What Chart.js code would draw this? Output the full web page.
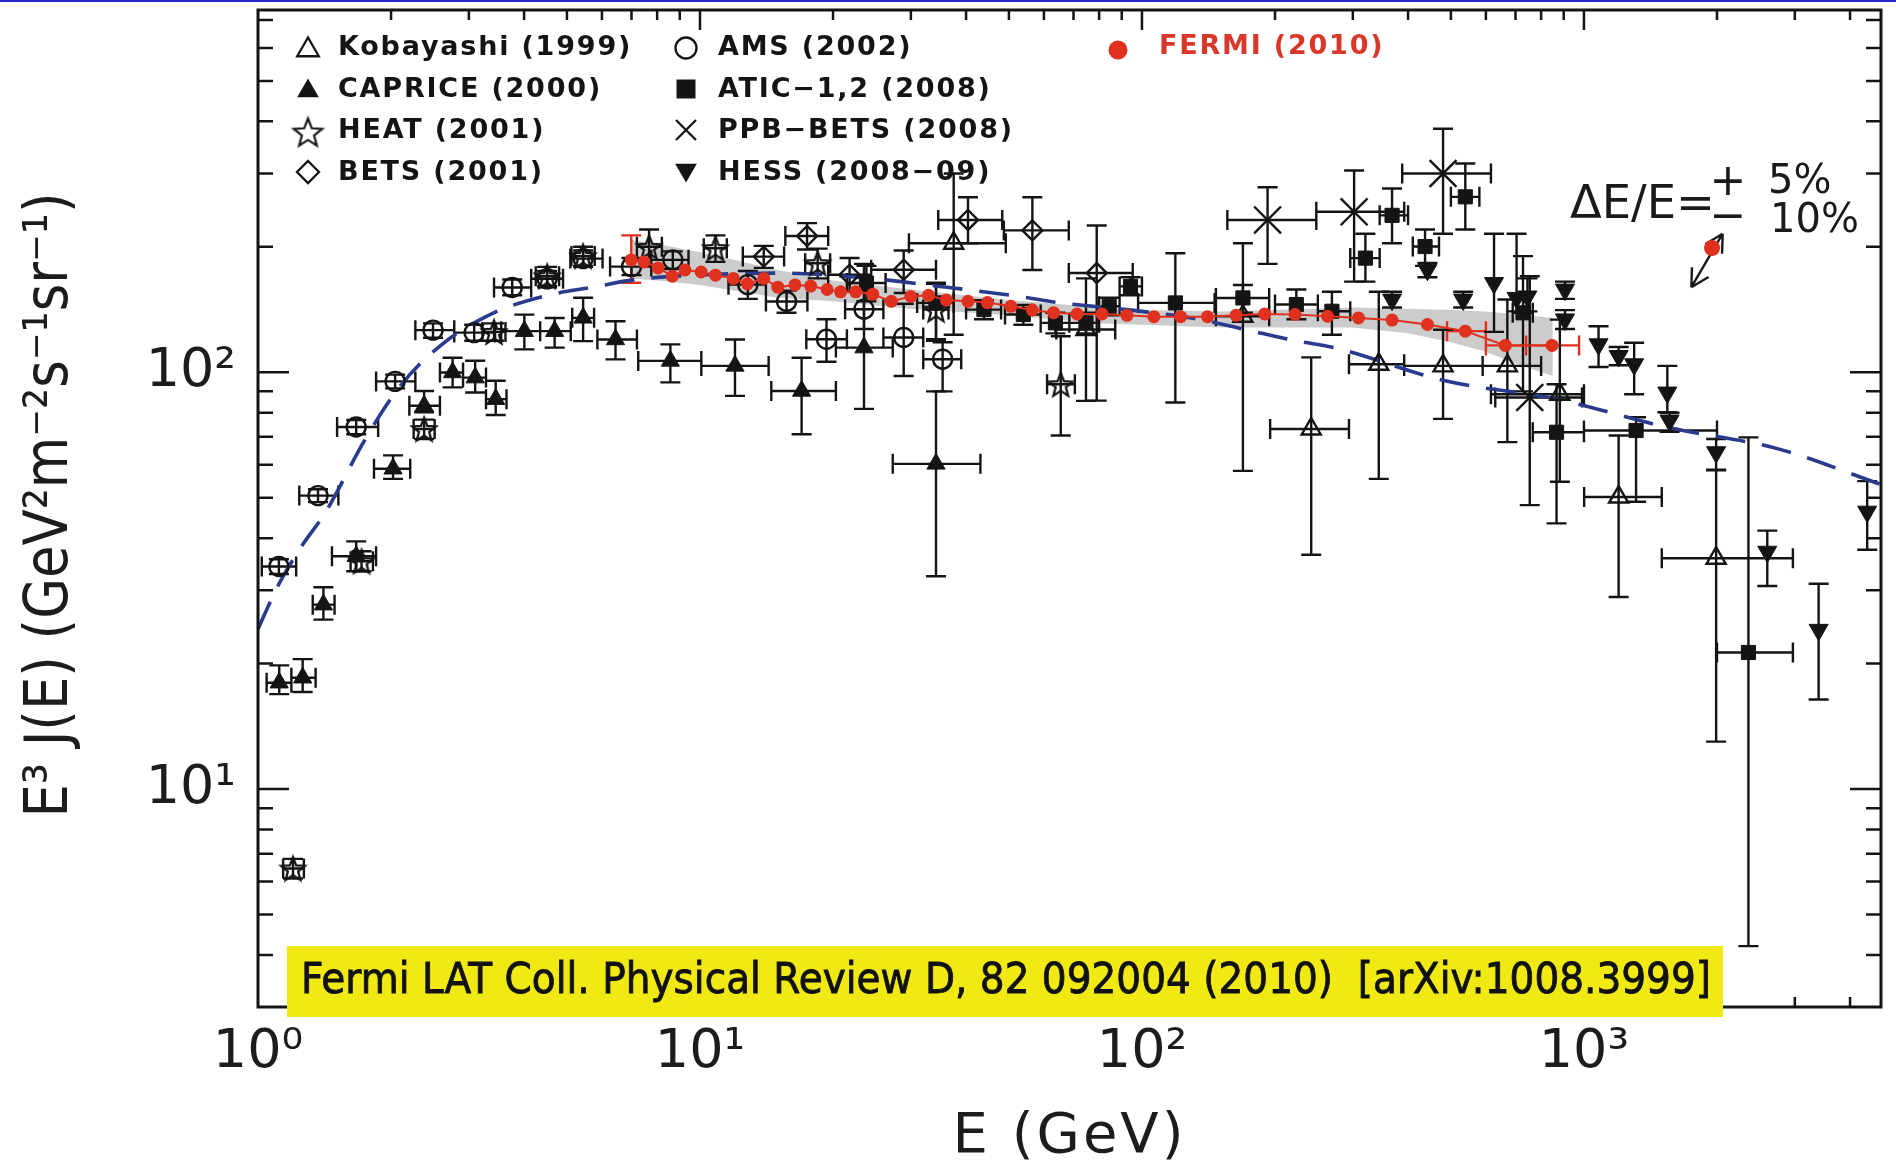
<!DOCTYPE html>
<html>
<head>
<meta charset="utf-8">
<title>Cosmic-ray electron spectrum</title>
<style>
html,body{margin:0;padding:0;background:#ffffff;overflow:hidden;}
canvas{display:block;}
</style>
<script src="https://cdn.jsdelivr.net/npm/chart.js@4.4.1/dist/chart.umd.min.js"></script>
</head>
<body>
<canvas id="chart" width="1896" height="1171"></canvas>
<script>
// ---------------- DATA ----------------
const xAxisRange = [1, 4700];
const yAxisRange = [3, 740];
const xTickValues = [1, 10, 100, 1000];
const xTickLabels = ['10\u2070', '10\u00b9', '10\u00b2', '10\u00b3'];
const yTickValues = [10, 100];
const yTickLabels = ['10\u00b9', '10\u00b2'];
const xTitle = 'E (GeV)';
const yTitle = 'E\u00b3 J(E) (GeV\u00b2m\u207b\u00b2s\u207b\u00b9sr\u207b\u00b9)';
const legendLabels = ['Kobayashi (1999)', 'CAPRICE (2000)', 'HEAT (2001)', 'BETS (2001)',
  'AMS (2002)', 'ATIC\u22121,2 (2008)', 'PPB\u2212BETS (2008)', 'HESS (2008\u221209)', 'FERMI (2010)'];
const citation = 'Fermi LAT Coll. Physical Review D, 82 092004 (2010)  [arXiv:1008.3999]';

// Kobayashi (1999)  open triangles
const kobE   = [37.5, 74.7, 169.2, 241.5, 343.4, 480, 671, 882, 1198, 1991];
const kobV   = [204, 126.7, 136.3, 73.1, 104.5, 103.6, 103.6, 88.6, 50.2, 35.8];
const kobELo = [29.7, 64, 147, 195, 294, 392, 590, 616, 1001, 1500];
const kobEHi = [49.2, 87, 194, 294, 392, 590, 800, 1000, 1500, 2970];
const kobVLo = [123, 85.4, 58, 36.5, 55.5, 77.3, 68, 54.6, 28.9, 13.0];
const kobVHi = [300, 168, 204, 108.6, 156, 126.5, 149.5, 133.8, 70.5, 58.4];

// CAPRICE (2000)  filled triangles
const capE   = [1.117, 1.262, 1.406, 1.668, 2.021, 2.376, 2.756, 3.10, 3.45, 4.005, 4.69, 5.44, 6.44, 8.57, 12.0, 16.98, 23.5, 34.2];
const capV   = [18.0, 18.5, 27.7, 36.2, 58.7, 83.1, 99.9, 97.1, 86.2, 125.5, 125.5, 135.1, 119.9, 106.5, 103.6, 90.2, 114.6, 60.3];
const capELo = [1.046, 1.19, 1.33, 1.47, 1.83, 2.20, 2.58, 2.91, 3.28, 3.55, 4.35, 5.14, 5.86, 7.25, 10.07, 14.5, 20.3, 27.3];
const capEHi = [1.19, 1.35, 1.49, 1.85, 2.21, 2.58, 2.91, 3.28, 3.65, 4.35, 5.10, 5.76, 7.20, 10.07, 14.3, 20.3, 27.3, 43.1];
const capVLo = [16.9, 17.1, 25.5, 33.3, 55.5, 80.2, 92.0, 89.4, 79.0, 113.5, 114.6, 118.8, 107.4, 94.6, 87.8, 71.0, 81.7, 32.4];
const capVHi = [19.8, 20.5, 30.5, 39.3, 63.2, 90.2, 108.4, 106.6, 95.4, 137.5, 135.0, 151.0, 132.6, 116.7, 119.9, 108.4, 182.0, 90.0];

// HEAT (2001)  open stars
const heatE   = [1.20, 1.715, 2.376, 3.42, 4.51, 5.44, 7.67, 10.84, 18.46, 34.2, 65.5];
const heatV   = [6.45, 35.2, 73.1, 125.0, 170.0, 190.0, 200.0, 198.5, 182.7, 141.4, 93.6];
const heatELo = [1.14, 1.62, 2.25, 3.22, 4.25, 5.12, 7.2, 10.2, 17.3, 32.0, 61.0];
const heatEHi = [1.27, 1.82, 2.51, 3.63, 4.80, 5.78, 8.2, 11.5, 19.7, 36.5, 70.5];
const heatVLo = [6.1, 33.3, 69.2, 119, 161, 180, 180, 184, 168, 120, 70.5];
const heatVHi = [6.8, 37.2, 77.0, 131, 179, 200, 220, 213, 198, 163, 122];

// BETS (2001)  open diamonds
const betsE   = [13.94, 17.47, 21.8, 28.9, 40.4, 56.5, 79.0];
const betsV   = [189.5, 212.3, 171.4, 176.2, 232, 219, 173];
const betsELo = [12.5, 15.6, 19.5, 24.4, 34.6, 48.7, 68.3];
const betsEHi = [15.5, 19.5, 24.4, 34.2, 48.3, 68.3, 95.3];
const betsVLo = [178, 197, 156, 155, 204, 176, 85.5];
const betsVHi = [201, 228, 188, 196, 263, 263, 225];

// AMS (2002)  open circles
const amsE   = [1.115, 1.367, 1.668, 2.043, 2.489, 3.084, 3.76, 4.51, 5.44, 7.0, 8.68, 12.83, 15.7, 19.33, 23.5, 28.9, 35.4];
const amsV   = [34.2, 50.6, 73.9, 95.1, 126.2, 124.5, 159.8, 167.6, 187.4, 179.3, 186.1, 162.3, 147.9, 120.0, 141.7, 121.2, 107.5];
const amsELo = [1.02, 1.24, 1.51, 1.85, 2.27, 2.78, 3.42, 4.15, 5.09, 6.26, 7.76, 11.6, 14.1, 17.4, 21.3, 26.0, 32.0];
const amsEHi = [1.22, 1.52, 1.87, 2.27, 2.78, 3.44, 4.15, 4.90, 6.02, 7.76, 9.42, 14.1, 17.5, 21.5, 26.0, 32.0, 39.0];
const amsVLo = [32.8, 48.8, 71.0, 91.5, 121, 119, 153, 160, 179, 171, 177, 150, 139, 106, 127, 98, 90];
const amsVHi = [35.6, 52.4, 76.8, 98.7, 131, 130, 167, 175, 196, 188, 195, 175, 157, 134, 158, 146, 118];

// ATIC-1,2 (2008)  filled squares
const aticE   = [23.8, 34.2, 43.9, 53.9, 63.7, 74.7, 84.3, 94.2, 119, 169.2, 223.5, 269, 320.3, 368, 437, 539, 728, 867, 1312, 2356];
const aticV   = [163.7, 146.7, 141.4, 137.6, 131.4, 131.4, 144, 160.7, 146.7, 150.8, 145.4, 140.1, 187.9, 238, 200.3, 263.6, 138.9, 71.8, 72.5, 21.27];
const aticELo = [21.5, 31, 40, 49, 59, 68.5, 80, 89, 98, 147, 200, 250, 296, 345, 410, 500, 690, 766, 1000, 2000];
const aticEHi = [26.3, 37.5, 48, 59, 68.5, 80, 89, 100, 146, 194, 250, 296, 345, 400, 470, 580, 766, 1000, 2000, 2970];
const aticVLo = [148, 119, 134, 130, 124, 124, 137, 153, 84.6, 139, 134, 123, 165, 204, 180, 220, 90, 43.4, 48.9, 4.2];
const aticVHi = [180, 164, 149, 145, 139, 139, 151, 169, 193, 162, 158, 156, 215, 276, 220, 317, 190, 93.6, 78, 69.8];

// PPB-BETS (2008)  crosses
const ppbE   = [192.4, 302, 480, 754];
const ppbV   = [232, 242.7, 299.9, 87.0];
const ppbELo = [156, 248, 388, 630];
const ppbEHi = [248, 392, 616, 990];
const ppbVLo = [182, 165, 215, 48];
const ppbVHi = [278, 305, 384, 170];

// HESS (2008-09)  filled down triangles
const hessE   = [368, 442.5, 533, 626, 704, 745, 906, 906, 1079, 1198, 1299, 1544, 1562, 1991, 2599, 3396, 4374];
const hessV   = [149.4, 176.2, 149.4, 163.7, 150.8, 152, 157.9, 133.9, 116.7, 109.4, 104.5, 89.4, 76.6, 64.3, 37.1, 24.1, 46.3];
const hessVLo = [143, 169, 143, 125, 140, 140, 150, 127, 103, 104, 88.6, 80.2, 72, 58.2, 30.7, 16.4, 37.5];
const hessVHi = [156, 183, 156, 215, 215, 168, 165, 141, 129, 115, 117.7, 103.6, 80, 69.2, 41.7, 31.1, 54.8];

// FERMI (2010)  red dots
const fermiE = [6.99, 7.47, 8.04, 8.66, 9.25, 10.06, 10.84, 11.9, 12.8, 13.94, 15.0, 16.4, 17.8, 19.4, 20.8, 22.5, 24.6, 27.1, 30.0, 32.9,
  36.1, 40.4, 44.7, 50.5, 56.5, 63.1, 71.3, 81.2, 92.5, 106.4, 122.3, 140.7, 163.3, 189.5, 222, 263, 309, 368, 442.5, 539, 664, 847];
const fermiV = [186, 184, 178, 170, 176, 174, 171, 168, 163, 168, 160, 162, 161, 158, 156, 156, 154, 148, 152, 153,
  149, 148, 147, 144, 141, 139, 138, 138, 137, 136, 136, 136, 137, 138, 137.6, 136.3, 135, 133.4, 130.2, 125.5, 116, 116];
const fermiBarE  = [6.99];
const fermiBarV  = [186];
const fermiBarLo = [164];
const fermiBarHi = [213];
const fermiBinE  = [539, 664, 847];
const fermiBinV  = [125.5, 116, 116];
const fermiBinLo = [490, 600, 740];
const fermiBinHi = [600, 740, 975];

// FERMI systematic band
const bandE  = [7, 8, 10, 12, 15, 20, 30, 50, 80, 100, 150, 200, 300, 400, 500, 600, 700, 850];
const bandHi = [208, 203, 194, 186, 176, 166, 158, 149, 143, 141, 140, 141, 143, 142, 141, 140, 138, 135];
const bandLo = [168, 166, 162, 157, 151, 148, 142, 137, 131, 130, 128, 128, 128, 124, 118, 112, 105, 98];

// model (blue dashed)
const modelE = [1.0, 1.107, 1.25, 1.424, 1.75, 2.1, 2.58, 3.35, 4.43, 5.85, 7.06, 9.33, 15.3, 23.9, 34.9, 52.3, 65.5, 100, 135, 171, 225, 272, 485, 867, 1544, 2750, 4700];
const modelV = [24.2, 30.6, 38.0, 46.3, 69.2, 92.8, 115.6, 137.6, 152.2, 160.7, 166.6, 170.6, 173.0, 168.3, 160.7, 152.2, 146.7, 140.0, 133.9, 126.7, 118.8, 114.6, 95.4, 86.2, 73.8, 65.5, 53.8];

// energy-scale annotation (data coordinates)
const annotDotE = 1949, annotDotV = 198.7;
const annotArrowE = [1750, 2060];
const annotArrowV = [160, 215];

// ---------------- HELPERS ----------------
const INK = '#141414';
const RED = '#e0301e';
const BLUE = '#2a3b8e';
function pts(E, V) { return E.map((e, i) => ({ x: e, y: V[i] })); }
function labelFor(v, vals, labels) {
  const i = vals.findIndex(t => Math.abs(t - v) / t < 1e-6);
  return i >= 0 ? labels[i] : '';
}
function makeStar(R, lw) {
  const s = Math.ceil(2 * R + 2 * lw + 4);
  const c = document.createElement('canvas'); c.width = s; c.height = s;
  const g = c.getContext('2d'); g.strokeStyle = INK; g.lineWidth = lw; g.lineJoin = 'miter';
  const r = R * 0.43, cx = s / 2, cy = s / 2 + R * 0.1;
  g.beginPath();
  for (let k = 0; k < 10; k++) {
    const a = -Math.PI / 2 + k * Math.PI / 5, rr = (k % 2) ? r : R;
    const px = cx + rr * Math.cos(a), py = cy + rr * Math.sin(a);
    if (k) g.lineTo(px, py); else g.moveTo(px, py);
  }
  g.closePath(); g.stroke();
  return c;
}
const starPoint = makeStar(12.5, 2.3);
const starLegend = makeStar(15, 2.2);

function errSet(E, V, ELo, EHi, VLo, VHi, color) {
  return { x: E, y: V, xlo: ELo, xhi: EHi, ylo: VLo, yhi: VHi, color: color };
}

const datasets = [
  { label: legendLabels[8], data: pts(fermiE, fermiV), showLine: true, borderColor: RED, borderWidth: 2,
    pointRadius: 6.5, pointBackgroundColor: RED, pointBorderWidth: 0, order: 0,
    errs: [errSet(fermiBarE, fermiBarV, null, null, fermiBarLo, fermiBarHi, RED),
           errSet(fermiBinE, fermiBinV, fermiBinLo, fermiBinHi, null, null, RED)] },
  { label: legendLabels[7], data: pts(hessE, hessV), pointStyle: 'triangle', rotation: 180, pointRadius: 11,
    pointBackgroundColor: INK, pointBorderColor: INK, pointBorderWidth: 1, order: 1,
    errs: [errSet(hessE, hessV, null, null, hessVLo, hessVHi, INK)] },
  { label: legendLabels[5], data: pts(aticE, aticV), pointStyle: 'rect', pointRadius: 10,
    pointBackgroundColor: INK, pointBorderColor: INK, pointBorderWidth: 1, order: 1,
    errs: [errSet(aticE, aticV, aticELo, aticEHi, aticVLo, aticVHi, INK)] },
  { label: legendLabels[6], data: pts(ppbE, ppbV), pointStyle: 'crossRot', pointRadius: 19,
    pointBorderColor: INK, pointBorderWidth: 2.4, order: 1,
    errs: [errSet(ppbE, ppbV, ppbELo, ppbEHi, ppbVLo, ppbVHi, INK)] },
  { label: legendLabels[0], data: pts(kobE, kobV), pointStyle: 'triangle', pointRadius: 11,
    pointBackgroundColor: 'rgba(0,0,0,0)', pointBorderColor: INK, pointBorderWidth: 2.4, order: 1,
    errs: [errSet(kobE, kobV, kobELo, kobEHi, kobVLo, kobVHi, INK)] },
  { label: legendLabels[1], data: pts(capE, capV), pointStyle: 'triangle', pointRadius: 10.5,
    pointBackgroundColor: INK, pointBorderColor: INK, pointBorderWidth: 1, order: 1,
    errs: [errSet(capE, capV, capELo, capEHi, capVLo, capVHi, INK)] },
  { label: legendLabels[4], data: pts(amsE, amsV), pointStyle: 'circle', pointRadius: 9.5,
    pointBackgroundColor: 'rgba(0,0,0,0)', pointBorderColor: INK, pointBorderWidth: 2.4, order: 1,
    errs: [errSet(amsE, amsV, amsELo, amsEHi, amsVLo, amsVHi, INK)] },
  { label: legendLabels[3], data: pts(betsE, betsV), pointStyle: 'rectRot', pointRadius: 10,
    pointBackgroundColor: 'rgba(0,0,0,0)', pointBorderColor: INK, pointBorderWidth: 2.4, order: 1,
    errs: [errSet(betsE, betsV, betsELo, betsEHi, betsVLo, betsVHi, INK)] },
  { label: legendLabels[2], data: pts(heatE, heatV), pointStyle: starPoint, pointRadius: 12, order: 1,
    errs: [errSet(heatE, heatV, heatELo, heatEHi, heatVLo, heatVHi, INK)] },
  { label: 'model', data: pts(modelE, modelV), showLine: true, pointRadius: 0, borderColor: BLUE,
    borderWidth: 3.6, borderDash: [30, 17], cubicInterpolationMode: 'monotone', order: 5 },
  { label: 'band hi', data: pts(bandE, bandHi), showLine: true, pointRadius: 0, borderWidth: 0,
    borderColor: 'rgba(0,0,0,0)', backgroundColor: 'rgba(198,198,198,0.9)', fill: '+1', order: 9 },
  { label: 'band lo', data: pts(bandE, bandLo), showLine: true, pointRadius: 0, borderWidth: 0,
    borderColor: 'rgba(0,0,0,0)', fill: false, order: 10 }
];

// ---------------- PLUGINS ----------------
const errorBarsPlugin = {
  id: 'errorBars',
  beforeDatasetsDraw(chart) {
    const ctx = chart.ctx, xs = chart.scales.x, ys = chart.scales.y, a = chart.chartArea;
    ctx.save();
    ctx.beginPath(); ctx.rect(a.left, a.top, a.right - a.left, a.bottom - a.top); ctx.clip();
    ctx.lineCap = 'butt';
    chart.data.datasets.forEach(ds => {
      (ds.errs || []).forEach(set => {
        const cap = 10;
        ctx.strokeStyle = set.color; ctx.lineWidth = 2.4;
        ctx.beginPath();
        for (let i = 0; i < set.x.length; i++) {
          const px = xs.getPixelForValue(set.x[i]), py = ys.getPixelForValue(set.y[i]);
          if (set.xlo) {
            const p1 = xs.getPixelForValue(set.xlo[i]), p2 = xs.getPixelForValue(set.xhi[i]);
            ctx.moveTo(p1, py); ctx.lineTo(p2, py);
            ctx.moveTo(p1, py - cap); ctx.lineTo(p1, py + cap);
            ctx.moveTo(p2, py - cap); ctx.lineTo(p2, py + cap);
          }
          if (set.ylo) {
            const q1 = ys.getPixelForValue(set.ylo[i]), q2 = ys.getPixelForValue(set.yhi[i]);
            ctx.moveTo(px, q1); ctx.lineTo(px, q2);
            ctx.moveTo(px - cap, q1); ctx.lineTo(px + cap, q1);
            ctx.moveTo(px - cap, q2); ctx.lineTo(px + cap, q2);
          }
        }
        ctx.stroke();
      });
    });
    ctx.restore();
  }
};

function drawSymbol(ctx, kind, x, y) {
  ctx.save();
  ctx.lineWidth = 2.3; ctx.strokeStyle = INK; ctx.fillStyle = INK; ctx.lineJoin = 'miter';
  ctx.beginPath();
  if (kind === 'triOpen' || kind === 'triFill') {
    const r = 12.5;
    ctx.moveTo(x, y - r); ctx.lineTo(x + r * 0.866, y + r * 0.5); ctx.lineTo(x - r * 0.866, y + r * 0.5); ctx.closePath();
    if (kind === 'triFill') ctx.fill(); else ctx.stroke();
  } else if (kind === 'triDown') {
    const r = 12.5;
    ctx.moveTo(x, y + r); ctx.lineTo(x + r * 0.866, y - r * 0.5); ctx.lineTo(x - r * 0.866, y - r * 0.5); ctx.closePath(); ctx.fill();
  } else if (kind === 'circle') {
    ctx.arc(x, y, 10.5, 0, Math.PI * 2); ctx.stroke();
  } else if (kind === 'square') {
    ctx.rect(x - 9.5, y - 9.5, 19, 19); ctx.fill();
  } else if (kind === 'diamond') {
    ctx.moveTo(x, y - 11); ctx.lineTo(x + 11, y); ctx.lineTo(x, y + 11); ctx.lineTo(x - 11, y); ctx.closePath(); ctx.stroke();
  } else if (kind === 'cross') {
    ctx.moveTo(x - 10, y - 10); ctx.lineTo(x + 10, y + 10); ctx.moveTo(x + 10, y - 10); ctx.lineTo(x - 10, y + 10); ctx.stroke();
  } else if (kind === 'star') {
    ctx.drawImage(starLegend, x - starLegend.width / 2, y - starLegend.height / 2);
  } else if (kind === 'dot') {
    ctx.fillStyle = RED; ctx.arc(x, y, 9.5, 0, Math.PI * 2); ctx.fill();
  }
  ctx.restore();
}

const decorPlugin = {
  id: 'decor',
  afterDraw(chart) {
    const ctx = chart.ctx, xs = chart.scales.x, ys = chart.scales.y, a = chart.chartArea;
    ctx.save();
    // inward ticks
    ctx.strokeStyle = INK; ctx.lineWidth = 2.5;
    ctx.beginPath();
    const mant = v => v / Math.pow(10, Math.floor(Math.log10(v) + 1e-9));
    xs.ticks.forEach(t => {
      const m = mant(t.value); if (Math.abs(m - Math.round(m)) > 1e-6) return;
      const px = xs.getPixelForValue(t.value);
      if (px <= a.left + 1 || px >= a.right - 1) return;
      const len = Math.round(m) === 1 ? 20 : 10;
      ctx.moveTo(px, a.bottom); ctx.lineTo(px, a.bottom - len);
      ctx.moveTo(px, a.top); ctx.lineTo(px, a.top + len);
    });
    ys.ticks.forEach(t => {
      const m = mant(t.value); if (Math.abs(m - Math.round(m)) > 1e-6) return;
      const py = ys.getPixelForValue(t.value);
      if (py <= a.top + 1 || py >= a.bottom - 1) return;
      const len = Math.round(m) === 1 ? 31 : 15;
      ctx.moveTo(a.left, py); ctx.lineTo(a.left + len, py);
      ctx.moveTo(a.right, py); ctx.lineTo(a.right - len, py);
    });
    ctx.stroke();
    // frame
    ctx.lineWidth = 3;
    ctx.strokeRect(a.left, a.top, a.right - a.left, a.bottom - a.top);

    // yellow citation box
    ctx.fillStyle = '#f1e914';
    ctx.fillRect(287, 946, 1436, 71);
    ctx.fillStyle = '#111'; ctx.strokeStyle = '#111'; ctx.lineWidth = 0.9;
    ctx.font = '43px "DejaVu Sans"';
    ctx.textAlign = 'center'; ctx.textBaseline = 'alphabetic';
    ctx.fillText(citation, 1006, 993, 1410);
    ctx.strokeText(citation, 1006, 993, 1410);

    // legend
    const col1 = [['triOpen', 0], ['triFill', 1], ['star', 2], ['diamond', 3]];
    const col2 = [['circle', 4], ['square', 5], ['cross', 6], ['triDown', 7]];
    const symY = [50, 91, 132, 172];
    const baseY = [55, 97, 138, 180];
    ctx.font = 'bold 27px "DejaVu Sans"';
    ctx.letterSpacing = '1.8px';
    ctx.textAlign = 'left'; ctx.fillStyle = INK;
    col1.forEach((e, i) => { drawSymbol(ctx, e[0], 308, symY[i]); ctx.fillText(legendLabels[e[1]], 338, baseY[i]); });
    col2.forEach((e, i) => { drawSymbol(ctx, e[0], 686, symY[i] - 2); ctx.fillText(legendLabels[e[1]], 718, baseY[i]); });
    drawSymbol(ctx, 'dot', 1118, 50);
    ctx.fillStyle = '#d8372a';
    ctx.fillText(legendLabels[8], 1159, 54);
    ctx.letterSpacing = '0px';

    // energy scale annotation
    ctx.fillStyle = '#1a1a1a';
    ctx.font = '47px "DejaVu Sans"';
    ctx.textAlign = 'left';
    ctx.fillText('\u0394E/E=', 1570, 218, 145);
    ctx.font = '44px "DejaVu Sans"';
    ctx.textAlign = 'center';
    ctx.fillText('+', 1728, 195);
    ctx.fillText('\u2212', 1728, 230);
    ctx.font = '40px "DejaVu Sans"';
    ctx.textAlign = 'left';
    ctx.fillText('5%', 1768, 193);
    ctx.fillText('10%', 1770, 232);
    const ax1 = xs.getPixelForValue(annotArrowE[0]), ay1 = ys.getPixelForValue(annotArrowV[0]);
    const ax2 = xs.getPixelForValue(annotArrowE[1]), ay2 = ys.getPixelForValue(annotArrowV[1]);
    ctx.strokeStyle = '#1a1a1a'; ctx.lineWidth = 2.4;
    ctx.beginPath(); ctx.moveTo(ax1, ay1); ctx.lineTo(ax2, ay2);
    const ang = Math.atan2(ay2 - ay1, ax2 - ax1), hl = 20, hw = 0.5;
    ctx.moveTo(ax2, ay2); ctx.lineTo(ax2 - hl * Math.cos(ang - hw), ay2 - hl * Math.sin(ang - hw));
    ctx.moveTo(ax2, ay2); ctx.lineTo(ax2 - hl * Math.cos(ang + hw), ay2 - hl * Math.sin(ang + hw));
    ctx.moveTo(ax1, ay1); ctx.lineTo(ax1 + hl * Math.cos(ang - hw), ay1 + hl * Math.sin(ang - hw));
    ctx.moveTo(ax1, ay1); ctx.lineTo(ax1 + hl * Math.cos(ang + hw), ay1 + hl * Math.sin(ang + hw));
    ctx.stroke();
    ctx.fillStyle = RED;
    ctx.beginPath(); ctx.arc(xs.getPixelForValue(annotDotE), ys.getPixelForValue(annotDotV), 8, 0, Math.PI * 2); ctx.fill();

    // axis titles
    ctx.fillStyle = '#1c1c1c';
    ctx.font = '56px "DejaVu Sans"';
    ctx.letterSpacing = '3px';
    ctx.textAlign = 'center'; ctx.textBaseline = 'middle';
    ctx.fillText(xTitle, (a.left + a.right) / 2, 1137);
    ctx.letterSpacing = '0px';
    ctx.save();
    ctx.translate(45, 505); ctx.rotate(-Math.PI / 2);
    ctx.font = '60px "DejaVu Sans"';
    ctx.textBaseline = 'alphabetic';
    ctx.fillText(yTitle, 0, 22, 625);
    ctx.restore();

    // slide border line at top
    ctx.fillStyle = '#2626c8';
    ctx.fillRect(0, 0, 1896, 2);
    ctx.restore();
  }
};

// ---------------- CHART ----------------
new Chart(document.getElementById('chart'), {
  type: 'scatter',
  data: { datasets: datasets },
  options: {
    responsive: false,
    animation: false,
    devicePixelRatio: 1,
    layout: { padding: { left: 0, right: 15, top: 10, bottom: 0 }, autoPadding: false },
    plugins: {
      legend: { display: false },
      tooltip: { enabled: false },
      filler: { drawTime: 'beforeDatasetsDraw' }
    },
    scales: {
      x: {
        type: 'logarithmic', position: 'bottom', min: xAxisRange[0], max: xAxisRange[1],
        grid: { display: false, drawTicks: false }, border: { display: false },
        ticks: { autoSkip: false, maxRotation: 0, minRotation: 0, padding: 14, color: '#1c1c1c',
          font: { family: 'DejaVu Sans', size: 54 }, callback: v => labelFor(v, xTickValues, xTickLabels) },
        afterFit: s => { s.height = 164; s.paddingLeft = 0; s.paddingRight = 0; }
      },
      y: {
        type: 'logarithmic', position: 'left', min: yAxisRange[0], max: yAxisRange[1],
        grid: { display: false, drawTicks: false }, border: { display: false },
        ticks: { autoSkip: false, padding: 22, color: '#1c1c1c',
          font: { family: 'DejaVu Sans', size: 54 }, callback: v => labelFor(v, yTickValues, yTickLabels) },
        afterFit: s => { s.width = 258; s.paddingTop = 0; s.paddingBottom = 0; }
      }
    }
  },
  plugins: [errorBarsPlugin, decorPlugin]
});
</script>
</body>
</html>
